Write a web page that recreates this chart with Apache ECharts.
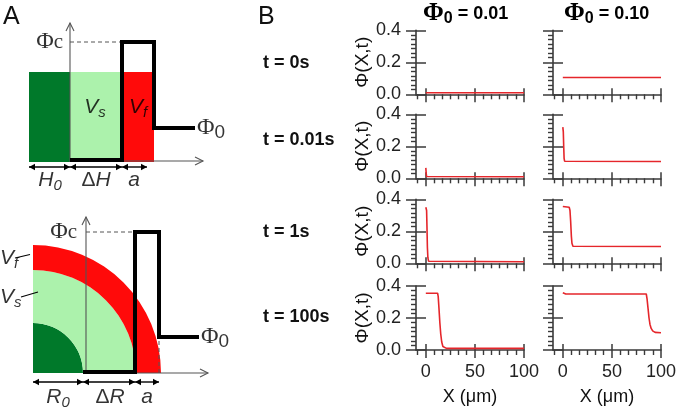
<!DOCTYPE html>
<html><head><meta charset="utf-8">
<script src="https://cdn.jsdelivr.net/npm/echarts@6/dist/echarts.min.js"></script>
<style>html,body{margin:0;padding:0;background:#fff}#c{width:677px;height:410px}</style>
</head><body><div id="c"></div>
<script>
// ================= Panel B data (X in µm, Φ volume fraction) =================
const timeLabels = ['t = 0s', 't = 0.01s', 't = 1s', 't = 100s'];
const phi0Labels = ['0.01', '0.10'];
const xMajorTicks = [0, 50, 100];
const xMinorTicks = [-8.33, 8.33, 16.67, 25, 33.33, 41.67, 58.33, 66.67, 75, 83.33, 91.67];
// Φ0 = 0.01
const low_t0    = [[0, 0.01], [100, 0.01]];
const low_t001  = [[0, 0.065], [0.4, 0.03], [0.8, 0.011], [100, 0.01]];
const low_t1    = [[0, 0.35], [0.8, 0.33], [1.2, 0.22], [1.6, 0.1], [2.1, 0.035], [2.8, 0.013], [4, 0.01], [100, 0.01]];
const low_t100  = [[0, 0.355], [12, 0.355], [12.6, 0.335], [13.4, 0.26], [14.3, 0.17], [15.2, 0.1], [16.2, 0.05], [17.4, 0.022], [19, 0.012], [21, 0.01], [100, 0.01]];
// Φ0 = 0.10
const high_t0   = [[0, 0.105], [100, 0.105]];
const high_t001 = [[0, 0.32], [0.5, 0.29], [0.9, 0.2], [1.3, 0.125], [1.8, 0.107], [100, 0.105]];
const high_t1   = [[0, 0.355], [6.5, 0.35], [7.3, 0.33], [8, 0.26], [8.7, 0.17], [9.3, 0.125], [10.3, 0.107], [12, 0.105], [100, 0.105]];
const high_t100 = [[0, 0.358], [3, 0.35], [85, 0.35], [85.8, 0.32], [86.8, 0.26], [87.8, 0.2], [88.8, 0.16], [90, 0.135], [91.5, 0.12], [94, 0.11], [100, 0.108]];
const profiles = [[low_t0, high_t0], [low_t001, high_t001], [low_t1, high_t1], [low_t100, high_t100]];

// ================= Panel A schematic data (schematic length units) =================
// slab (top)
const slabRects   = [[-41, 0, -1, 89], [0, 52, -1, 89], [52, 84, -1, 89]];   // x0,x1,y0,y1
const slabRegion  = ['core', 'solid', 'fluid'];
const slabProfile = [[0, 1], [52, 1], [52, 119], [84, 119], [84, 33], [125, 33]];
const slabPhiC    = [[0, 119], [52, 119]];
const slabAxes    = [[0, -1, 0, 138], [0, 0, 133, 0]];
const slabDims    = [[-41, -6, 0, -6], [0, -6, 52, -6], [52, -6, 77, -6]];
const slabLabelPos  = [[-7, 119], [127, 33], [25, 54], [68, 54], [-20, -19], [26, -19], [64, -19]];
const slabLabelText = ['Φc', 'Φ0', 'Vs', 'Vf', 'H0', 'ΔH', 'a'];
// sphere (bottom)
const sphereRings   = [[-53, 0, 0, 50], [-53, 0, 50, 103], [-53, 0, 103, 128]]; // cx,cy,r0,r1
const sphereRegion  = ['core', 'solid', 'fluid'];
const sphereProfile = [[-3, 1], [49, 1], [49, 141], [73, 141], [73, 36], [113, 36]];
const spherePhiC    = [[0, 141], [49, 141]];
const sphereDrop    = [[73, 0], [73, 36]];
const sphereAxes    = [[0, -1, 0, 156], [0, 0, 122, 0]];
const sphereDims    = [[-53, -9, -3, -9], [-3, -9, 49, -9], [49, -9, 73, -9]];
const sphereLeaders = [[-71, 115, -56, 118.5], [-65, 76, -48, 81]];
const sphereLabelPos  = [[-9, 141], [115, 36], [-86, 115], [-86, 76], [-28, -24], [24, -24], [61, -24]];
const sphereLabelText = ['Φc', 'Φ0', 'Vf', 'Vs', 'R0', 'ΔR', 'a'];

// ================= styling helpers =================
const regionColor = { core: '#00792a', solid: '#acf2ac', fluid: '#ff0a0a' };
const SANS = "'Liberation Sans', Arial, sans-serif";
const NARROW = "'Liberation Sans Narrow', 'Liberation Sans', Arial, sans-serif";
const SERIF = "'Liberation Serif', 'Times New Roman', serif";
const richMap = {
  'Φc': '{phi|Φ}{c|c}', 'Φ0': '{phi|Φ}{z|0}',
  'Vs': '{v|V}{sub|s}', 'Vf': '{v|V}{sub|f}',
  'H0': '{v|H}{sub|0}', 'ΔH': '{up|Δ}{v|H}', 'R0': '{v|R}{sub|0}', 'ΔR': '{up|Δ}{v|R}', 'a': '{v|a}'
};
const labelRich = {
  phi: { fontFamily: SERIF, fontSize: 24, color: '#000', lineHeight: 28 },
  c:   { fontFamily: SERIF, fontSize: 21, color: '#000', lineHeight: 28 },
  z:   { fontFamily: SANS, fontSize: 19, color: '#000', lineHeight: 20, verticalAlign: 'bottom' },
  v:   { fontFamily: SANS, fontStyle: 'italic', fontSize: 21, color: '#000', lineHeight: 26 },
  sub: { fontFamily: SANS, fontStyle: 'italic', fontSize: 15, color: '#000', lineHeight: 14, verticalAlign: 'bottom' },
  up:  { fontFamily: SANS, fontSize: 21, color: '#000', lineHeight: 26 }
};

const grids = [], xAxes = [], yAxes = [], series = [];

function rectSeries(ai, rects, regions) {
  return { type: 'custom', coordinateSystem: 'cartesian2d', xAxisIndex: ai, yAxisIndex: ai, silent: true,
    data: rects, encode: { x: [0, 1], y: [2, 3] },
    renderItem: (p, api) => {
      const a = api.coord([api.value(0), api.value(3)]), b = api.coord([api.value(1), api.value(2)]);
      return { type: 'rect', shape: { x: a[0], y: a[1], width: b[0] - a[0], height: b[1] - a[1] },
        style: { fill: regionColor[regions[p.dataIndex]] } };
    } };
}
function ringSeries(ai, rings, regions) {
  return { type: 'custom', coordinateSystem: 'cartesian2d', xAxisIndex: ai, yAxisIndex: ai, silent: true,
    data: rings, encode: { x: 0, y: 1 },
    renderItem: (p, api) => {
      const c = api.coord([api.value(0), api.value(1)]);
      const r0 = api.size([api.value(2), 0])[0], r1 = api.size([api.value(3), 0])[0];
      return { type: 'sector', shape: { cx: c[0], cy: c[1], r0: r0, r: r1, startAngle: -Math.PI / 2, endAngle: 0, clockwise: true },
        style: { fill: regionColor[regions[p.dataIndex]] } };
    } };
}
// kind: 'axis' (open head at end), 'dim' (filled heads both ends), 'plain'
function arrowSeries(ai, segs, kind) {
  return { type: 'custom', coordinateSystem: 'cartesian2d', xAxisIndex: ai, yAxisIndex: ai, silent: true,
    data: segs, encode: { x: [0, 2], y: [1, 3] },
    renderItem: (p, api) => {
      const a = api.coord([api.value(0), api.value(1)]), b = api.coord([api.value(2), api.value(3)]);
      const dx = b[0] - a[0], dy = b[1] - a[1], L = Math.hypot(dx, dy) || 1;
      const ux = dx / L, uy = dy / L, px = -uy, py = ux;
      const color = kind === 'axis' ? '#555' : '#000';
      const children = [{ type: 'line', shape: { x1: a[0], y1: a[1], x2: b[0], y2: b[1] },
        style: { stroke: color, lineWidth: kind === 'dim' ? 1.4 : 1.1 } }];
      if (kind === 'axis') {
        const h = 8, w = 4;
        children.push({ type: 'polyline', shape: { points: [[b[0] - h * ux + w * px, b[1] - h * uy + w * py], [b[0], b[1]], [b[0] - h * ux - w * px, b[1] - h * uy - w * py]] },
          style: { stroke: color, lineWidth: 1.1, fill: null } });
      } else if (kind === 'dim') {
        const h = 6, w = 3.2;
        [[b, 1], [a, -1]].forEach(([q, s]) => {
          children.push({ type: 'polygon', shape: { points: [[q[0], q[1]], [q[0] - s * h * ux + w * px, q[1] - s * h * uy + w * py], [q[0] - s * h * ux - w * px, q[1] - s * h * uy - w * py]] },
            style: { fill: '#000' } });
        });
      }
      return { type: 'group', children: children };
    } };
}
function lineSeries(ai, data, style) {
  return { type: 'line', xAxisIndex: ai, yAxisIndex: ai, data: data, symbol: 'none', showSymbol: false,
    silent: true, clip: false, lineStyle: style, animation: false };
}
function labelSeries(ai, pos, texts, aligns) {
  return { type: 'scatter', xAxisIndex: ai, yAxisIndex: ai, silent: true, symbolSize: 1,
    itemStyle: { color: 'rgba(0,0,0,0)' },
    data: pos.map((q, i) => ({ value: q, label: { formatter: richMap[texts[i]], align: aligns[i] } })),
    label: { show: true, position: 'inside', verticalAlign: 'middle', rich: labelRich } };
}

// ---- schematic grids ----
grids.push({ left: 0, top: 11, width: 230, height: 180, outerBoundsMode: 'none' });
xAxes.push({ type: 'value', gridIndex: 0, min: -70, max: 160, show: false });
yAxes.push({ type: 'value', gridIndex: 0, min: -30, max: 150, show: false });
grids.push({ left: 0, top: 203, width: 230, height: 200, outerBoundsMode: 'none' });
xAxes.push({ type: 'value', gridIndex: 1, min: -86, max: 144, show: false });
yAxes.push({ type: 'value', gridIndex: 1, min: -30, max: 170, show: false });

const thick = { color: '#000', width: 4, join: 'miter', cap: 'butt' };
const dashed = { color: '#555', width: 1, type: [4, 3] };
series.push(rectSeries(0, slabRects, slabRegion));
series.push(lineSeries(0, slabPhiC, dashed));
series.push(arrowSeries(0, slabAxes, 'axis'));
series.push(lineSeries(0, slabProfile, thick));
series.push(arrowSeries(0, slabDims, 'dim'));
series.push(labelSeries(0, slabLabelPos, slabLabelText, ['right', 'left', 'center', 'center', 'center', 'center', 'center']));

series.push(ringSeries(1, sphereRings, sphereRegion));
series.push(lineSeries(1, spherePhiC, dashed));
series.push(lineSeries(1, sphereDrop, dashed));
series.push(arrowSeries(1, sphereAxes, 'axis'));
series.push(lineSeries(1, sphereProfile, thick));
series.push(arrowSeries(1, sphereDims, 'dim'));
series.push(arrowSeries(1, sphereLeaders, 'plain'));
series.push(labelSeries(1, sphereLabelPos, sphereLabelText, ['right', 'left', 'left', 'left', 'center', 'center', 'center']));

// ---- panel B grids ----
const colLeft = [416, 553], gridW = 108;
const rowTop = [30.3, 114.3, 199.3, 286], gridH = 64;
const axCol = '#3a3a3a';
for (let r = 0; r < 4; r++) {
  for (let c = 0; c < 2; c++) {
    const gi = grids.length;
    grids.push({ left: colLeft[c], top: rowTop[r], width: gridW, height: gridH, outerBoundsMode: 'none' });
    const isBottom = r === 3, isLeft = c === 0;
    const xi = xAxes.length;
    const baseX = { type: 'value', gridIndex: gi, position: 'bottom', min: -10, max: 100, splitLine: { show: false } };
    xAxes.push(Object.assign({}, baseX, {
      axisLine: { show: true, onZero: false, lineStyle: { color: axCol, width: 1.6 } },
      axisTick: { show: true, customValues: xMajorTicks, length: 8, inside: false, lineStyle: { color: axCol, width: 1.5 } },
      axisLabel: { show: isBottom, customValues: xMajorTicks, margin: 13, fontSize: 18, fontFamily: NARROW, color: '#222' },
      name: isBottom ? 'X (μm)' : '', nameLocation: 'middle', nameGap: 38,
      nameTextStyle: { fontSize: 18, fontFamily: SANS, color: '#111' }
    }));
    xAxes.push(Object.assign({}, baseX, {
      axisLine: { show: false, onZero: false },
      axisTick: { show: true, customValues: xMajorTicks, length: 6, inside: true, lineStyle: { color: axCol, width: 1.5 } },
      axisLabel: { show: false }
    }));
    xAxes.push(Object.assign({}, baseX, {
      axisLine: { show: false, onZero: false },
      axisTick: { show: true, customValues: xMinorTicks, length: 5, inside: false, lineStyle: { color: axCol, width: 1.4 } },
      axisLabel: { show: false }
    }));
    const yi = yAxes.length;
    const baseY = { type: 'value', gridIndex: gi, position: 'left', min: 0, max: 0.4, interval: 0.2, splitLine: { show: false } };
    yAxes.push(Object.assign({}, baseY, {
      axisLine: { show: true, onZero: false, lineStyle: { color: axCol, width: 1.6 } },
      axisTick: { show: true, length: 10, inside: false, lineStyle: { color: axCol, width: 1.5 } },
      minorTick: { show: true, splitNumber: 7, length: 5, lineStyle: { color: axCol, width: 1.4 } },
      minorSplitLine: { show: false },
      axisLabel: { show: isLeft, margin: 15, formatter: v => v.toFixed(1), fontSize: 18, fontFamily: NARROW, color: '#222' },
      name: isLeft ? 'Φ(X,t)' : '', nameLocation: 'middle', nameRotate: 90, nameGap: 44,
      nameTextStyle: { fontSize: 19, fontFamily: SANS, color: '#111' }
    }));
    yAxes.push(Object.assign({}, baseY, {
      axisLine: { show: false, onZero: false },
      axisTick: { show: true, length: 10, inside: true, lineStyle: { color: axCol, width: 1.5 } },
      axisLabel: { show: false }
    }));
    series.push({ type: 'line', xAxisIndex: xi, yAxisIndex: yi, data: profiles[r][c], symbol: 'none', showSymbol: false,
      silent: true, lineStyle: { color: '#e5262b', width: 1.6 } });
  }
}

// ---- titles ----
const titles = [
  { text: 'A', left: 3, top: 5, padding: 0, textStyle: { fontSize: 25, fontWeight: 'normal', fontFamily: SANS, color: '#111' } },
  { text: 'B', left: 258, top: 5, padding: 0, textStyle: { fontSize: 25, fontWeight: 'normal', fontFamily: SANS, color: '#111' } }
];
const headerLeft = [423, 564];
phi0Labels.forEach((t, i) => {
  titles.push({ text: '{p|Φ}{s|0}{t| = ' + t + '}', left: headerLeft[i], top: 1, padding: 0,
    textStyle: { rich: {
      p: { fontFamily: SERIF, fontSize: 25, color: '#000', lineHeight: 26 },
      s: { fontFamily: SANS, fontSize: 16, fontWeight: 'bold', color: '#000', lineHeight: 16, verticalAlign: 'bottom' },
      t: { fontFamily: SANS, fontSize: 18, fontWeight: 'bold', color: '#000', lineHeight: 26 }
    } } });
});
const rowLabelCenter = [63, 140, 232, 317];
timeLabels.forEach((t, i) => {
  titles.push({ text: t, left: 263, top: rowLabelCenter[i] - 10, padding: 0,
    textStyle: { fontSize: 18, fontWeight: 'bold', fontFamily: SANS, color: '#111', lineHeight: 20 } });
});

const chart = echarts.init(document.getElementById('c'), null, { renderer: 'canvas' });
chart.setOption({
  animation: false,
  backgroundColor: '#fff',
  title: titles,
  grid: grids,
  xAxis: xAxes,
  yAxis: yAxes,
  series: series
});
</script>
</body></html>
